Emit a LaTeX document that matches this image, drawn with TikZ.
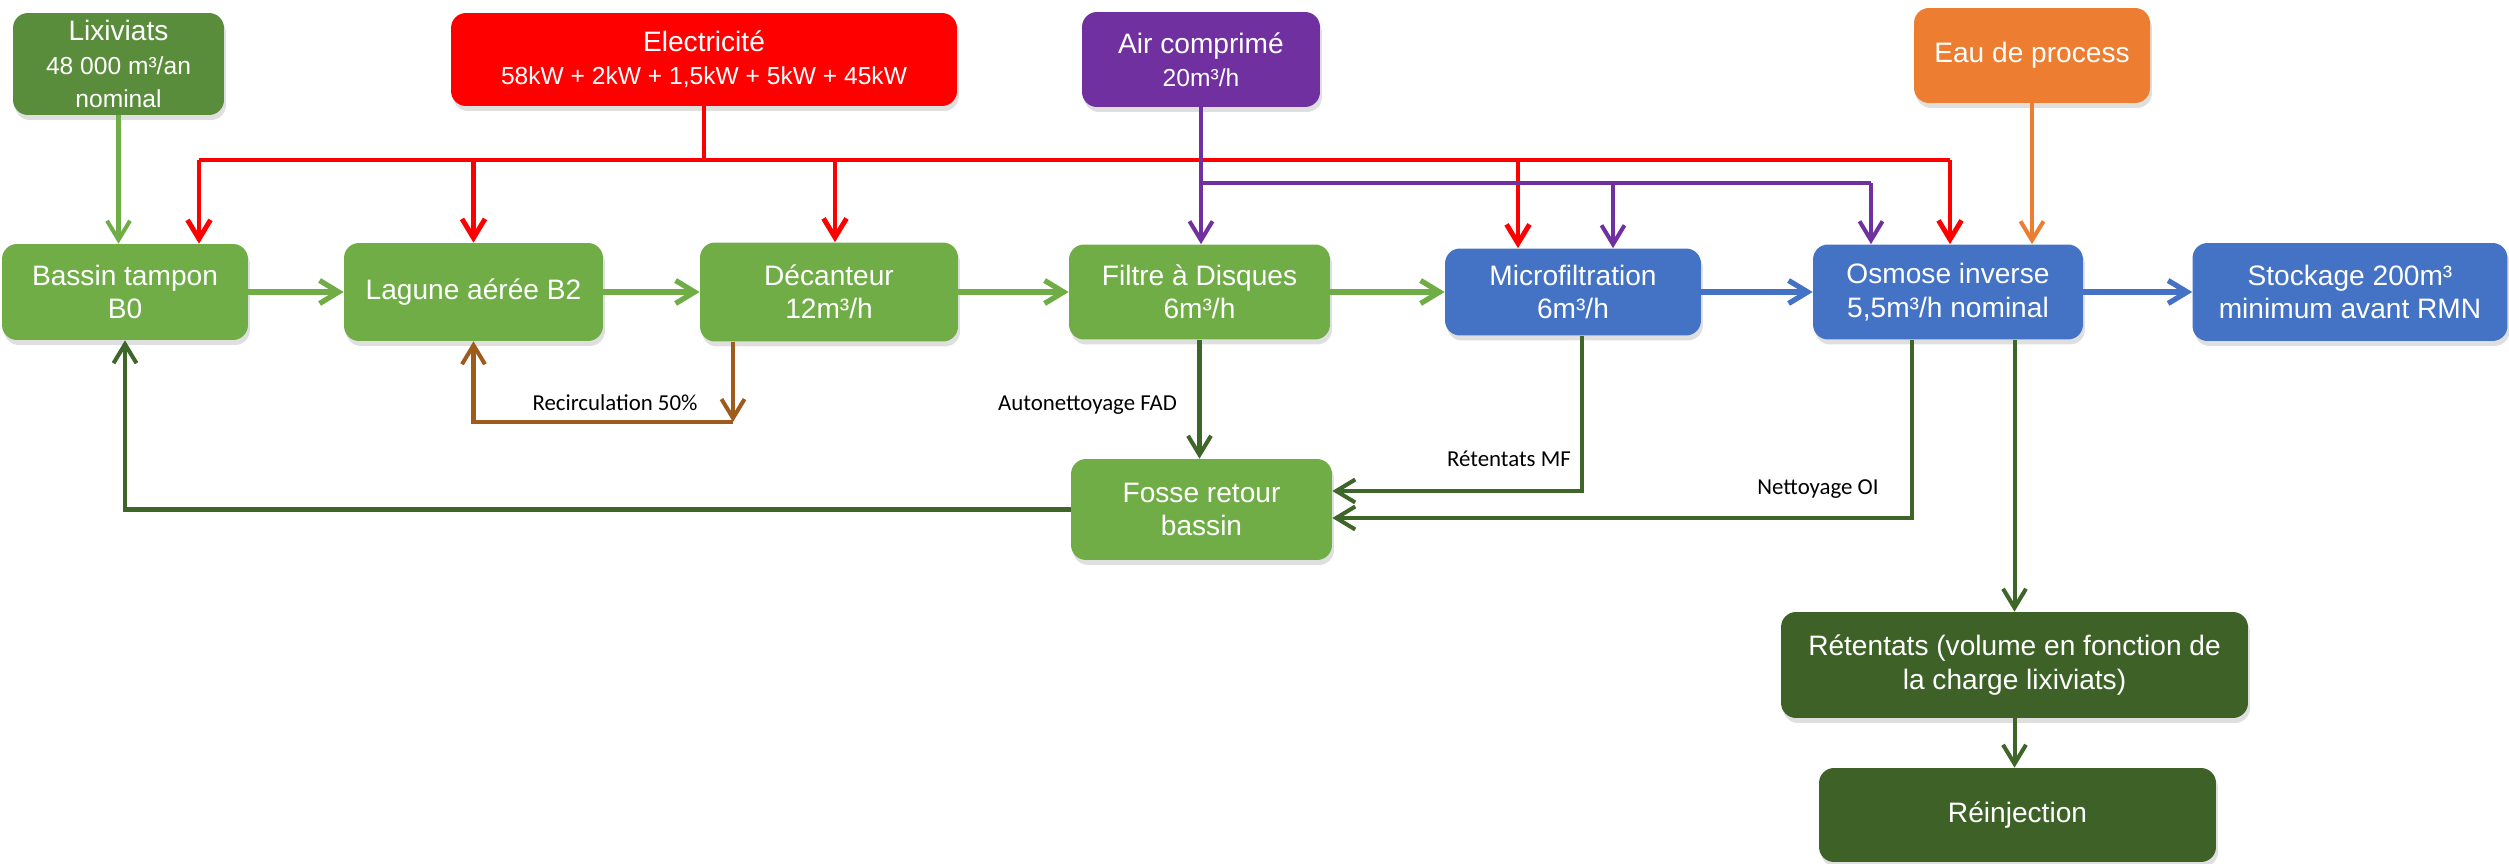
\documentclass[tikz,border=0pt]{standalone}
\usepackage{fontspec}
\setmainfont{Liberation Sans}
\newfontfamily\lbfont{Carlito}
\usetikzlibrary{arrows.meta,shadows}
\definecolor{vert}{HTML}{70AD47}
\definecolor{vertlix}{HTML}{5A8D3B}
\definecolor{vertsombre}{HTML}{3D6127}
\definecolor{retour}{HTML}{3E6628}
\definecolor{bleu}{HTML}{4472C4}
\definecolor{rougeelec}{HTML}{FF0000}
\definecolor{violetair}{HTML}{7030A0}
\definecolor{orangeeau}{HTML}{ED7D31}
\definecolor{brun}{HTML}{9E5B1C}
\newcommand{\petit}{\fontsize{14}{17}\selectfont}

\begin{document}
\begin{tikzpicture}[x=0.02cm,y=-0.02cm,>={Straight Barb[length=0.38cm,width=0.46cm]},
    bx/.style={rounded corners=0.3cm,text=white,align=center,inner sep=0pt,
        font=\fontsize{16}{19}\selectfont,
        drop shadow={opacity=0.25,shadow xshift=0.04cm,shadow yshift=-0.1cm}},
    lb/.style={font=\lbfont\fontsize{13}{15}\selectfont},
    fl/.style={line width=3pt},
    ln/.style={line width=2.3pt},
    el/.style={line width=2.8pt,rougeelec}]
    \useasboundingbox (0,0) rectangle (2509,864);
    % sources
    \node[bx,fill=vertlix,minimum width=4.22cm,minimum height=2.04cm] (lix) at (118.5,64) {Lixiviats\\\petit 48 000 m³/an\\\petit nominal};
    \node[bx,fill=rougeelec,minimum width=10.12cm,minimum height=1.86cm] (elec) at (704,59.5) {Electricité\\\petit 58kW + 2kW + 1,5kW + 5kW + 45kW};
    \node[bx,fill=violetair,minimum width=4.76cm,minimum height=1.9cm] (air) at (1201,59.5) {Air comprimé\\\petit 20m³/h};
    \node[bx,fill=orangeeau,minimum width=4.72cm,minimum height=1.9cm] (eau) at (2032,55.5) {Eau de process};
    % chaine de traitement
    \node[bx,fill=vert,minimum width=4.92cm,minimum height=1.92cm] (bassin) at (125,292) {Bassin tampon\\B0};
    \node[bx,fill=vert,minimum width=5.18cm,minimum height=1.96cm] (lagune) at (473.5,292) {Lagune aérée B2};
    \node[bx,fill=vert,minimum width=5.16cm,minimum height=1.98cm] (decant) at (829,292) {Décanteur\\12m³/h};
    \node[bx,fill=vert,minimum width=5.22cm,minimum height=1.9cm] (filtre) at (1199.5,292) {Filtre à Disques\\6m³/h};
    \node[bx,fill=bleu,minimum width=5.12cm,minimum height=1.74cm] (micro) at (1573,292) {Microfiltration\\6m³/h};
    \node[bx,fill=bleu,minimum width=5.4cm,minimum height=1.9cm] (osmose) at (1948,292) {Osmose inverse\\5,5m³/h nominal};
    \node[bx,fill=bleu,minimum width=6.3cm,minimum height=1.96cm] (stock) at (2350,292) {Stockage 200m³\\minimum avant RMN};
    \node[bx,fill=vert,minimum width=5.22cm,minimum height=2.02cm] (fosse) at (1201.5,509.5) {Fosse retour\\bassin};
    \node[bx,fill=vertsombre,minimum width=9.34cm,minimum height=2.12cm] (reten) at (2014.5,665) {Rétentats (volume en fonction de\\la charge lixiviats)};
    \node[bx,fill=vertsombre,minimum width=7.94cm,minimum height=1.88cm] (reinj) at (2017.5,815) {Réinjection};
    % electricite
    \coordinate (ebus) at (704,160);
    \foreach \n/\x in {bassin/199,lagune/473.5,decant/835,micro/1518,osmose/1950} {
        \coordinate (e\n) at (\x,160);
        \draw[el,->] (e\n) -- (e\n |- \n.north);
    }
    \draw[el] (ebassin) -- (eosmose);
    \draw[el] (elec) -- (ebus);
    % air
    \coordinate (abus) at (1201,183);
    \draw[ln,violetair,->] (air) -- (air |- filtre.north);
    \foreach \n/\x in {micro/1613,osmose/1871} {
        \coordinate (a\n) at (\x,183);
        \draw[ln,violetair,->] (a\n) -- (a\n |- \n.north);
    }
    \draw[ln,violetair] (abus) -- (aosmose);
    % eau, lixiviats
    \draw[ln,orangeeau,->] (eau) -- (eau |- osmose.north);
    \draw[ln,vert,->] (lix) -- (lix |- bassin.north);
    % flux principal
    \draw[fl,vert,->] (bassin) -- (lagune);
    \draw[fl,vert,->] (lagune) -- (decant);
    \draw[fl,vert,->] (decant) -- (filtre);
    \draw[fl,vert,->] (filtre) -- (micro);
    \draw[fl,bleu,->] (micro) -- (osmose);
    \draw[fl,bleu,->] (osmose) -- (stock);
    % recirculation
    \coordinate (rc) at (733,422);
    \draw[ln,brun,->] (rc |- decant.south) -- (rc);
    \draw[ln,brun,->] (rc) -| (lagune.south);
    \node[lb] (lrc) at (615,403) {Recirculation 50\%};
    % retours
    \draw[ln,retour,->] (filtre) -- (filtre |- fosse.north);
    \node[lb,anchor=east] (lfad) at (1183,405) {Autonettoyage FAD};
    \coordinate (mf) at (1582,491);
    \draw[ln,retour,->] (mf |- micro.south) -- (mf) -- (mf -| fosse.east);
    \node[lb,anchor=east] (lmf) at (1577,459) {Rétentats MF};
    \coordinate (oi) at (1912,518);
    \draw[ln,retour,->] (oi |- osmose.south) -- (oi) -- (oi -| fosse.east);
    \node[lb] (loi) at (1818,489) {Nettoyage OI};
    \draw[ln,retour,->] (osmose.south -| reten.north) -- (reten.north);
    \draw[ln,retour,->] (reten) -- (reten |- reinj.north);
    \draw[ln,retour,->] (fosse) -| (bassin.south);
\end{tikzpicture}
\end{document}
